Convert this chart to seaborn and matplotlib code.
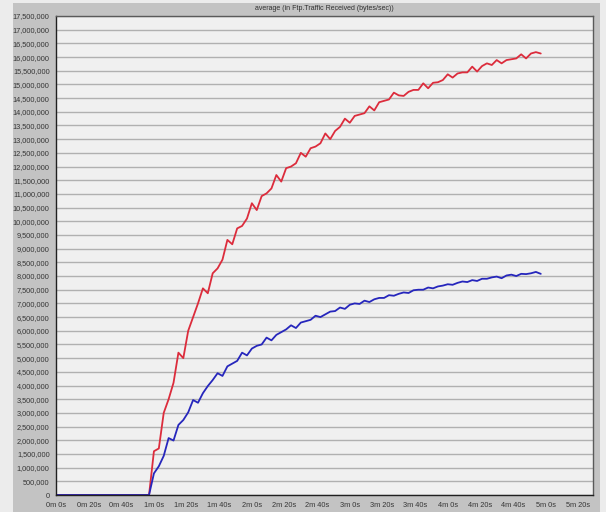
import matplotlib
matplotlib.use("Agg")
import matplotlib.pyplot as plt
from matplotlib.patches import Rectangle
from matplotlib.ticker import FuncFormatter, MultipleLocator
import pandas as pd
import seaborn as sns

# Sample times of the statistic (seconds)
sample_times = [
    0, 3, 6, 9, 12, 15, 18, 21, 24, 27, 30, 33, 36, 39, 42, 45, 48, 51, 54, 57,
    60, 63, 66, 69, 72, 75, 78, 81, 84, 87, 90, 93, 96, 99, 102, 105, 108, 111,
    114, 117, 120, 123, 126, 129, 132, 135, 138, 141, 144, 147, 150, 153, 156,
    159, 162, 165, 168, 171, 174, 177, 180, 183, 186, 189, 192, 195, 198, 201,
    204, 207, 210, 213, 216, 219, 222, 225, 228, 231, 234, 237, 240, 243, 246,
    249, 252, 255, 258, 261, 264, 267, 270, 273, 276, 279, 282, 285, 288, 291,
    294, 297,
]

# Average FTP traffic received, in millions of bytes/sec
red_series = [
    0, 0, 0, 0, 0, 0, 0, 0, 0, 0, 0, 0, 0, 0, 0, 0, 0, 0, 0, 0,
    1.6, 1.7, 3.0, 3.5, 4.1, 5.2, 5.0, 6.0, 6.5, 7.0, 7.55, 7.37, 8.1, 8.28,
    8.6, 9.32, 9.16, 9.74, 9.83, 10.1, 10.66, 10.41, 10.92, 11.02, 11.2, 11.69,
    11.45, 11.94, 12.0, 12.12, 12.5, 12.36, 12.67, 12.73, 12.85, 13.21, 13.0,
    13.3, 13.45, 13.75, 13.6, 13.85, 13.9, 13.95, 14.2, 14.05, 14.35, 14.4,
    14.45, 14.7, 14.6, 14.58, 14.73, 14.8, 14.8, 15.04, 14.86, 15.06, 15.08,
    15.16, 15.37, 15.25, 15.4, 15.44, 15.44, 15.65, 15.47, 15.67, 15.77, 15.71,
    15.89, 15.77, 15.89, 15.92, 15.95, 16.1, 15.95, 16.13, 16.18, 16.13,
]

blue_series = [
    0, 0, 0, 0, 0, 0, 0, 0, 0, 0, 0, 0, 0, 0, 0, 0, 0, 0, 0, 0,
    0.79, 1.05, 1.43, 2.08, 1.99, 2.56, 2.74, 3.02, 3.47, 3.37, 3.72, 3.98,
    4.2, 4.45, 4.35, 4.7, 4.8, 4.9, 5.2, 5.1, 5.35, 5.45, 5.5, 5.75, 5.65,
    5.85, 5.95, 6.05, 6.2, 6.1, 6.3, 6.35, 6.4, 6.55, 6.5, 6.6, 6.7, 6.72,
    6.85, 6.8, 6.95, 7.0, 6.98, 7.1, 7.05, 7.15, 7.2, 7.2, 7.3, 7.28, 7.35,
    7.4, 7.38, 7.48, 7.5, 7.5, 7.58, 7.55, 7.62, 7.65, 7.7, 7.68, 7.75, 7.8,
    7.78, 7.85, 7.82, 7.9, 7.9, 7.95, 7.98, 7.92, 8.02, 8.05, 8.0, 8.08, 8.07,
    8.1, 8.15, 8.08,
]

series_names = ["red", "blue"]
series_colors = {"red": "#dc2c3c", "blue": "#2626bc"}

title_text = "average (in Ftp.Traffic Received (bytes/sec))"

df = pd.concat([
    pd.DataFrame({"t": sample_times, "value": [v * 1e6 for v in red_series], "series": "red"}),
    pd.DataFrame({"t": sample_times, "value": [v * 1e6 for v in blue_series], "series": "blue"}),
], ignore_index=True)

sns.set_style("white")
plt.rcParams["font.family"] = ["Liberation Sans", "DejaVu Sans"]

W, H = 606, 512
fig = plt.figure(figsize=(W / 100, H / 100), dpi=100)
fig.patch.set_facecolor("#ececec")
# grey panel behind the chart
fig.patches.append(Rectangle((13 / W, 0), (600 - 13) / W, (H - 3) / H,
                             transform=fig.transFigure, facecolor="#c3c3c3",
                             edgecolor="none", zorder=-10))

ax = fig.add_axes([56 / W, 1 - 495 / H, (593 - 56) / W, (495 - 16) / H])
ax.set_zorder(5)
ax.set_facecolor("#f0f0f0")

sns.lineplot(data=df, x="t", y="value", hue="series", hue_order=series_names,
             palette=series_colors, linewidth=1.3, legend=False, ax=ax,
             estimator=None, sort=True)

ax.set_xlim(0, 329)
ax.set_ylim(0, 17.5e6)

ax.yaxis.set_major_locator(MultipleLocator(500000))
ax.xaxis.set_major_locator(MultipleLocator(20))
ax.yaxis.set_major_formatter(FuncFormatter(lambda v, p: f"{int(round(v)):,}"))
ax.xaxis.set_major_formatter(FuncFormatter(lambda v, p: f"{int(v) // 60}m {int(v) % 60}s"))

ax.grid(axis="y", color="#b0b0b0", linewidth=1.0)
ax.grid(axis="x", visible=False)
ax.set_axisbelow(True)

ax.tick_params(axis="both", which="major", direction="out", length=3, width=0.8,
               colors="#404040", labelsize=5.3, labelcolor="#353535", pad=1.5)
ax.tick_params(axis="x", pad=2)

for side in ["left", "bottom"]:
    ax.spines[side].set_color("#202020")
    ax.spines[side].set_linewidth(1.0)
for side in ["top", "right"]:
    ax.spines[side].set_visible(True)
    ax.spines[side].set_color("#5a5a5a")
    ax.spines[side].set_linewidth(1.0)

ax.set_xlabel("")
ax.set_ylabel("")

fig.text(324.5 / W, 1 - 8.5 / H, title_text, ha="center", va="center",
         fontsize=5.0, color="#303030")

fig.savefig("out.png", dpi=100, facecolor=fig.get_facecolor())
